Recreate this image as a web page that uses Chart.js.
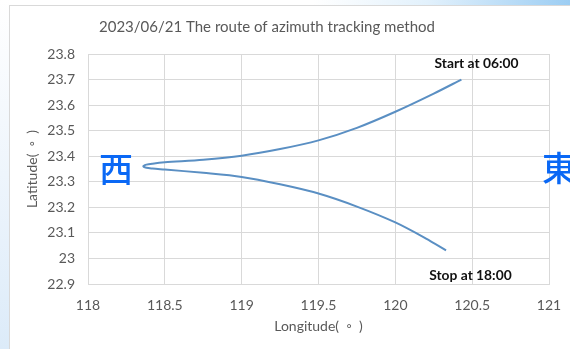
<!DOCTYPE html>
<html>
<head>
<meta charset="utf-8">
<script src="https://cdn.jsdelivr.net/npm/chart.js@4/dist/chart.umd.min.js"></script>
<style>
  html, body { margin: 0; padding: 0; }
  body {
    width: 570px; height: 349px; overflow: hidden; position: relative;
    background: linear-gradient(to right, #ffffff 0%, #ffffff 55%, #e2f1fc 75%, #9ccdf3 100%);
    font-family: Lato, "Open Sans", sans-serif;
  }
  #leftStrip {
    position: absolute; left: 0; top: 0; width: 9px; height: 349px;
    background: linear-gradient(to bottom, #ffffff 0%, #eef5fc 50%, #dcebf9 100%);
  }
  #card {
    position: absolute; left: 9px; top: 5px; width: 620px; height: 400px;
    background: #fff; border: 1px solid #d9d9d9;
  }
  #wrap { position: absolute; left: 0; top: 0; width: 570px; height: 349px; }
  .dir {
    position: absolute; color: #0a68f5; font-size: 34px; line-height: 1;
    font-family: "Noto Sans CJK TC", "Noto Sans CJK SC", sans-serif; font-weight: 500;
  }
</style>
</head>
<body>
<div id="leftStrip"></div>
<div id="card"></div>
<div id="wrap"><canvas id="routeChart" width="570" height="349"></canvas></div>
<span class="dir" style="left:99px; top:151px;">西</span>
<span class="dir" style="left:542px; top:150px;">東</span>
<script>
// route of the tracked point, 06:00 (north-east end) round the western tip to 18:00
const longitude = [
  120.43, 120.25, 120.00, 119.75, 119.50, 119.25, 119.00, 118.75, 118.50, 118.42, 118.38, 118.36,
  118.38, 118.42, 118.50, 118.75, 119.00, 119.25, 119.50, 119.75, 120.00, 120.20, 120.33
];
const latitude = [
  23.700, 23.645, 23.574, 23.511, 23.462, 23.428, 23.402, 23.386, 23.376, 23.371, 23.367, 23.361,
  23.355, 23.352, 23.348, 23.335, 23.319, 23.290, 23.254, 23.203, 23.141, 23.078, 23.032
];
const xTicks = [118, 118.5, 119, 119.5, 120, 120.5, 121];
const yTicks = [22.9, 23, 23.1, 23.2, 23.3, 23.4, 23.5, 23.6, 23.7, 23.8];

const chartTitle = '2023/06/21 The route of azimuth tracking method';
const notes = [
  { text: 'Start at 06:00', x: 120.528, y: 23.762 },
  { text: 'Stop at 18:00', x: 120.489, y: 22.933 }
];

const points = longitude.map((lon, i) => ({ x: lon, y: latitude[i] }));
const textGray = '#595959';
const gridGray = '#d9d9d9';
const baseFont = 'Lato, "Open Sans", sans-serif';

// title and the two time labels are drawn on top of the plot
const textPlugin = {
  id: 'routeText',
  afterDraw(chart) {
    const ctx = chart.ctx;
    const xs = chart.scales.x, ys = chart.scales.y;
    ctx.save();
    ctx.fillStyle = textGray;
    ctx.font = '15px ' + baseFont;
    ctx.textAlign = 'center';
    ctx.textBaseline = 'middle';
    ctx.fillText(chartTitle, 267, 27);

    ctx.fillStyle = '#111';
    ctx.font = 'bold 13.8px ' + baseFont;
    notes.forEach(n => {
      ctx.fillText(n.text, xs.getPixelForValue(n.x), ys.getPixelForValue(n.y));
    });
    ctx.restore();
  }
};

new Chart(document.getElementById('routeChart'), {
  type: 'scatter',
  data: {
    datasets: [{
      data: points,
      showLine: true,
      borderColor: '#5a8fc3',
      borderWidth: 2,
      pointRadius: 0,
      tension: 0.3,
      fill: false
    }]
  },
  options: {
    responsive: false,
    animation: false,
    layout: { padding: { left: 0, top: 54, right: 21, bottom: 0 } },
    plugins: {
      legend: { display: false },
      tooltip: { enabled: false }
    },
    scales: {
      x: {
        type: 'linear',
        min: xTicks[0],
        max: xTicks[xTicks.length - 1],
        afterBuildTicks: s => { s.ticks = xTicks.map(v => ({ value: v })); },
        afterFit: s => { s.height = 65; s.paddingLeft = 0; s.paddingRight = 0; },
        grid: { color: gridGray, drawTicks: false },
        border: { color: gridGray },
        ticks: { color: textGray, font: { size: 14, family: baseFont }, padding: 13, maxRotation: 0,
          callback: v => String(v) },
        title: { display: true, text: 'Longitude(  ◦  )', color: textGray,
          font: { size: 14, family: baseFont }, padding: { top: 14, bottom: 14 } }
      },
      y: {
        type: 'linear',
        min: yTicks[0],
        max: yTicks[yTicks.length - 1],
        afterBuildTicks: s => { s.ticks = yTicks.map(v => ({ value: v })); },
        afterFit: s => { s.width = 88; s.paddingTop = 0; s.paddingBottom = 0; },
        grid: { color: gridGray, drawTicks: false },
        border: { color: gridGray },
        ticks: { color: textGray, font: { size: 14, family: baseFont }, padding: 13,
          callback: v => String(Math.round(v * 10) / 10) },
        title: { display: true, text: 'Latitude(  ◦  )', color: textGray,
          font: { size: 14, family: baseFont }, padding: { top: 24, bottom: 24 } }
      }
    }
  },
  plugins: [textPlugin]
});
</script>
</body>
</html>
